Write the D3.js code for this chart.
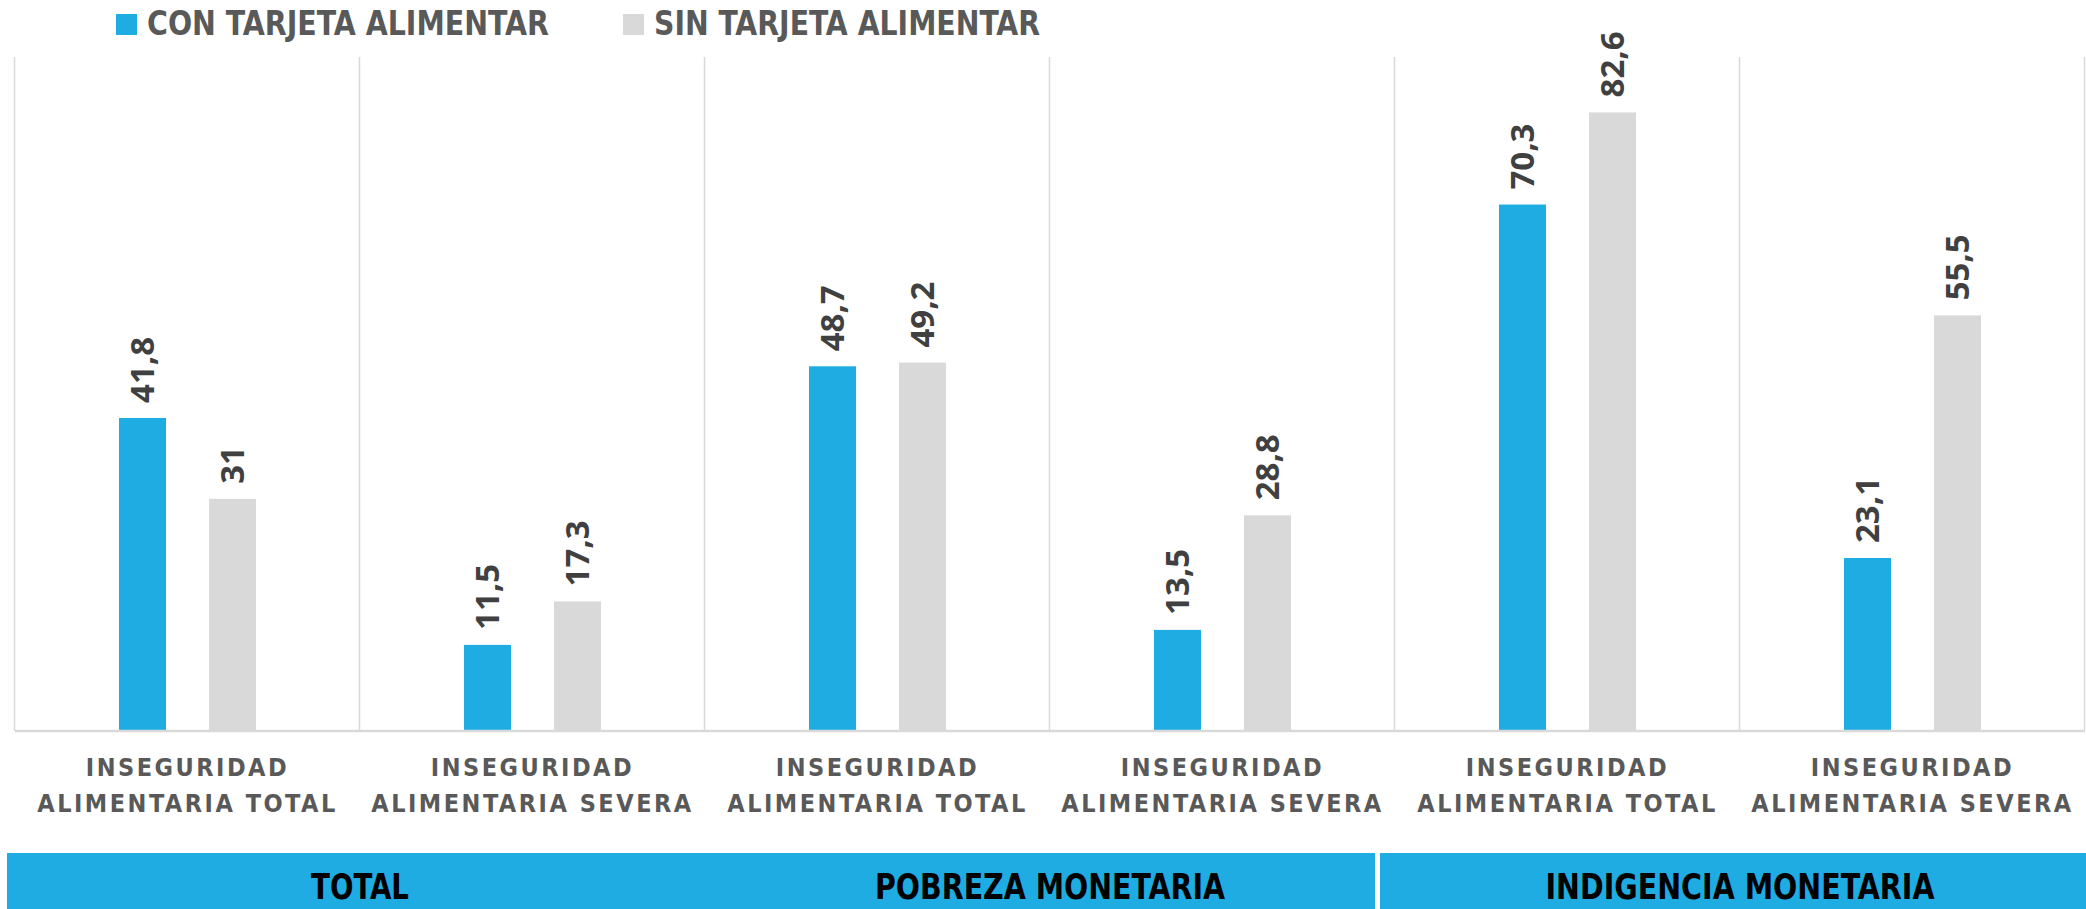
<!DOCTYPE html>
<html>
<head>
<meta charset="utf-8">
<script src="https://cdn.jsdelivr.net/npm/d3@7"></script>
<style>
  body { margin: 0; background: #fff; }
  svg { display: block; }
  .cond { font-family: "Liberation Sans Narrow", "DejaVu Sans Condensed", "Open Sans", sans-serif; font-weight: bold; }
</style>
</head>
<body>
<div id="chart"></div>
<script>
// data
var categories = [
	["INSEGURIDAD", "ALIMENTARIA TOTAL"],
	["INSEGURIDAD", "ALIMENTARIA SEVERA"],
	["INSEGURIDAD", "ALIMENTARIA TOTAL"],
	["INSEGURIDAD", "ALIMENTARIA SEVERA"],
	["INSEGURIDAD", "ALIMENTARIA TOTAL"],
	["INSEGURIDAD", "ALIMENTARIA SEVERA"]
];
var conTarjeta = [41.8, 11.5, 48.7, 13.5, 70.3, 23.1];
var sinTarjeta = [31, 17.3, 49.2, 28.8, 82.6, 55.5];
var seriesNames = ["CON TARJETA ALIMENTAR", "SIN TARJETA ALIMENTAR"];
var groups = ["TOTAL", "POBREZA MONETARIA", "INDIGENCIA MONETARIA"];

var W = 2086, H = 909;
var blue = "#1eace3", grey = "#d9d9d9";
var plotLeft = 15, plotRight = 2085, plotTop = 57, plotBottom = 731;

var svg = d3.select("#chart")
	.append("svg")
	.attr("width", W)
	.attr("height", H);

var x0 = d3.scaleBand()
	.domain(d3.range(categories.length))
	.range([plotLeft, plotRight]);
var bw = x0.bandwidth();
var x1 = d3.scaleBand()
	.domain([0, 1])
	.range([bw / 2 - 68.5, bw / 2 + 68.5])
	.paddingInner(43 / 90);
var y = d3.scaleLinear()
	.domain([0, 90])
	.range([plotBottom, plotTop]);

// separators
svg.append("g")
	.selectAll("line")
	.data(d3.range(categories.length + 1))
	.join("line")
	.attr("x1", function(d){ return Math.round(plotLeft + d * bw) - 0.5; })
	.attr("x2", function(d){ return Math.round(plotLeft + d * bw) - 0.5; })
	.attr("y1", plotTop)
	.attr("y2", plotBottom)
	.attr("stroke", "#d9d9d9")
	.attr("stroke-width", 1.5);

var rows = categories.map(function(c, i){
	return [{ s: 0, i: i, v: conTarjeta[i] }, { s: 1, i: i, v: sinTarjeta[i] }];
});

var g = svg.append("g")
	.selectAll("g")
	.data(rows)
	.join("g")
	.attr("transform", function(d, i){ return "translate(" + x0(i) + ",0)"; });

g.selectAll("rect")
	.data(function(d){ return d; })
	.join("rect")
	.attr("x", function(d){ return x1(d.s); })
	.attr("width", x1.bandwidth())
	.attr("y", function(d){ return y(d.v); })
	.attr("height", function(d){ return y(0) - y(d.v); })
	.attr("fill", function(d){ return d.s === 0 ? blue : grey; });

g.selectAll("text")
	.data(function(d){ return d; })
	.join("text")
	.attr("transform", function(d){
		return "translate(" + (x1(d.s) + x1.bandwidth() / 2) + "," + (y(d.v) - 15) + ") rotate(-90)";
	})
	.attr("dy", "0.36em")
	.attr("font-family", "'Open Sans', sans-serif")
	.attr("font-weight", "bold")
	.attr("font-size", 33)
	.attr("fill", "#404040")
	.text(function(d){ return String(d.v).replace(".", ","); });

// baseline
svg.append("line")
	.attr("x1", plotLeft).attr("x2", plotRight)
	.attr("y1", plotBottom).attr("y2", plotBottom)
	.attr("stroke", "#d9d9d9")
	.attr("stroke-width", 2.5);

// category labels
var cl = svg.append("g")
	.selectAll("text")
	.data(categories)
	.join("text")
	.attr("class", "cond")
	.attr("text-anchor", "middle")
	.attr("font-size", 25)
	.attr("letter-spacing", 2.5)
	.attr("fill", "#595959");
cl.selectAll("tspan")
	.data(function(d, i){ return d.map(function(t){ return { t: t, i: i }; }); })
	.join("tspan")
	.attr("x", function(d){ return x0(d.i) + bw / 2; })
	.attr("y", function(d, j){ return j === 0 ? 776 : 812; })
	.text(function(d){ return d.t; });

// group band
svg.append("rect")
	.attr("x", 7).attr("y", 853)
	.attr("width", x0(4) - 20 - 7).attr("height", H - 853)
	.attr("fill", blue);
svg.append("rect")
	.attr("x", x0(4) - 15).attr("y", 853)
	.attr("width", W - x0(4) + 15).attr("height", H - 853)
	.attr("fill", blue);
var groupWidths = [98, 350, 389];
svg.append("g")
	.selectAll("text")
	.data(groups)
	.join("text")
	.attr("class", "cond")
	.attr("x", function(d, i){ return x0(i * 2) + bw; })
	.attr("y", 899)
	.attr("text-anchor", "middle")
	.attr("font-size", 35)
	.attr("textLength", function(d, i){ return groupWidths[i]; })
	.attr("lengthAdjust", "spacingAndGlyphs")
	.attr("fill", "#000")
	.text(function(d){ return d; });

// legend
var legX = [116, 623];
var legW = [402, 386];
var lg = svg.append("g")
	.selectAll("g")
	.data(seriesNames)
	.join("g")
	.attr("transform", function(d, i){ return "translate(" + legX[i] + ",0)"; });
lg.append("rect")
	.attr("x", 0).attr("y", 14)
	.attr("width", 21).attr("height", 21)
	.attr("fill", function(d, i){ return i === 0 ? blue : grey; });
lg.append("text")
	.attr("class", "cond")
	.attr("x", 31)
	.attr("y", 35)
	.attr("font-size", 33)
	.attr("textLength", function(d, i){ return legW[i]; })
	.attr("lengthAdjust", "spacingAndGlyphs")
	.attr("fill", "#595959")
	.text(function(d){ return d; });
</script>
</body>
</html>
